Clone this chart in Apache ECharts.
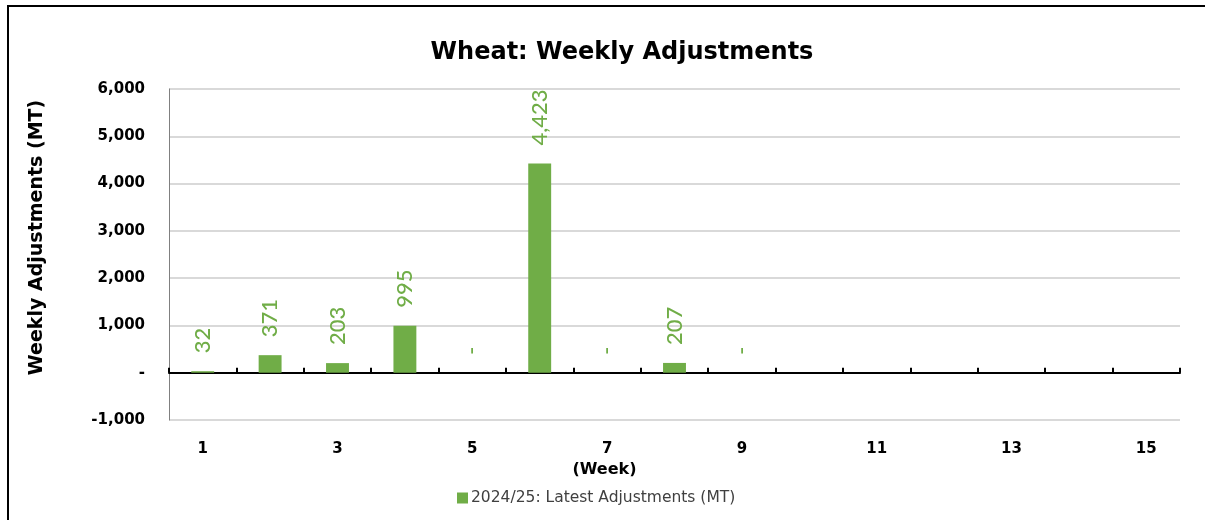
<!DOCTYPE html>
<html lang="en">
<head>
    <meta charset="UTF-8">
    <title>Wheat: Weekly Adjustments</title>
    <style>
        html,body{margin:0;padding:0;background:#fff;}
        #mychart{width:1205px;height:520px;}
    </style>
</head>
<body>
    <div id="mychart"></div>
    <script src="https://cdn.jsdelivr.net/npm/echarts@6/dist/echarts.min.js"></script>
    <script>
        var weeks=['1','2','3','4','5','6','7','8','9','10','11','12','13','14','15']
        var adjustments=[32,371,203,995,0,4423,0,207,0,null,null,null,null,null,null]
        var seriesName='2024/25: Latest Adjustments (MT)'
        var green='#70ad47'
        var font='DejaVu Sans'//宽字体更接近原图

        var myChart=echarts.init(document.getElementById('mychart'))
        var option={
            animation:false,
            textStyle:{fontFamily:font},
            graphic:[{//外框，只露出上边和左边
                type:'rect',
                shape:{x:8,y:6,width:1300,height:600},
                style:{fill:'none',stroke:'#000',lineWidth:2},
                silent:true
            }],
            title:{
                text:'Wheat: Weekly Adjustments',
                left:617,
                textAlign:'center',
                top:36,
                textStyle:{fontFamily:font,fontSize:24,fontWeight:'bold',color:'#000'}
            },
            legend:{
                top:485,
                left:452,
                itemWidth:11,
                itemHeight:11,
                itemGap:5,
                icon:'rect',
                textStyle:{fontFamily:font,fontSize:15.5,color:'#404040',padding:[0,0,0,-2]},
                data:[seriesName]
            },
            grid:{left:169,right:25,top:89,bottom:100},
            xAxis:[
                {//0轴的线和刻度
                    type:'category',
                    data:weeks,
                    axisLine:{onZero:true,lineStyle:{color:'#000',width:2}},
                    axisTick:{show:true,inside:true,length:5,lineStyle:{color:'#000',width:2}},
                    axisLabel:{show:false}
                },
                {//底部标签
                    type:'category',
                    data:weeks,
                    position:'bottom',
                    axisLine:{show:false,onZero:false},
                    axisTick:{show:false},
                    axisLabel:{interval:1,margin:22,fontFamily:font,fontSize:15,fontWeight:'bold',color:'#000'},
                    name:'(Week)',
                    nameLocation:'middle',
                    nameGap:42,
                    nameTextStyle:{fontFamily:font,fontSize:16,fontWeight:'bold',color:'#000',padding:[0,140,0,0]}
                }
            ],
            yAxis:{
                type:'value',
                min:-1000,
                max:6000,
                interval:1000,
                name:'Weekly Adjustments (MT)',
                nameLocation:'middle',
                nameGap:122,
                nameTextStyle:{fontFamily:font,fontSize:19,fontWeight:'bold',color:'#000',padding:[0,0,0,34]},
                axisLine:{show:true,lineStyle:{color:'#808080',width:1}},
                axisTick:{show:false},
                axisLabel:{
                    margin:24,
                    fontFamily:font,fontSize:15,fontWeight:'bold',color:'#000',
                    formatter:function(v){
                        if(v===0) return '-'
                        return v.toLocaleString('en-US')
                    }
                },
                splitLine:{lineStyle:{color:'#d9d9d9',width:2}}
            },
            series:[{
                name:seriesName,
                type:'bar',
                xAxisIndex:0,
                data:adjustments,
                barWidth:'34%',
                itemStyle:{color:green},
                label:{
                    show:true,
                    position:'top',
                    rotate:90,
                    align:'left',
                    verticalAlign:'middle',
                    distance:18,
                    fontFamily:'Lato',
                    fontSize:22,
                    fontWeight:500,
                    color:green,
                    formatter:function(p){
                        if(p.value==null) return ''
                        if(p.value===0) return '-'
                        return p.value.toLocaleString('en-US')
                    }
                }
            }]
        }
        myChart.setOption(option)
    </script>
</body>
</html>
